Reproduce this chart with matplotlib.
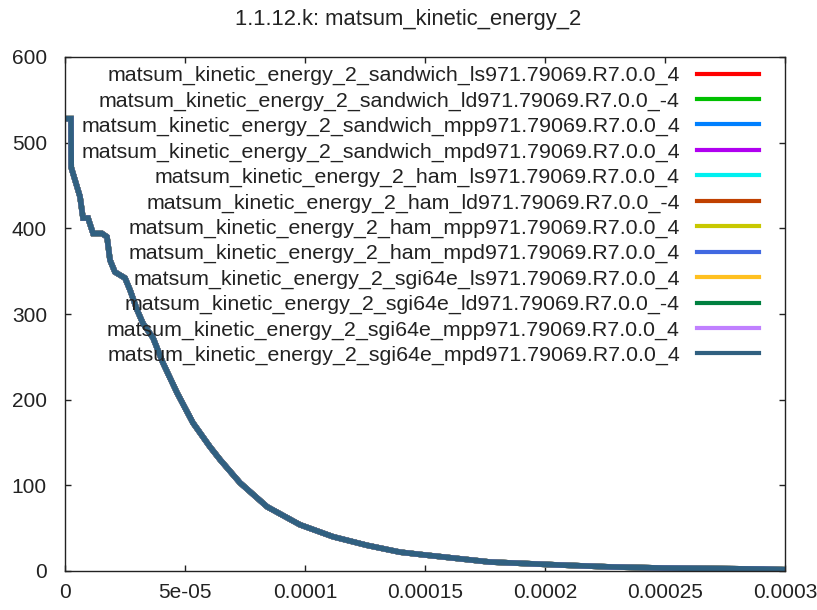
import matplotlib
matplotlib.use('Agg')
import matplotlib.pyplot as plt

plt.rcParams['font.family'] = ['Liberation Sans', 'DejaVu Sans']

# Dane (czas [s], energia)
czas = [0, 2.5e-6, 2.6e-6, 6.25e-6, 7.5e-6, 9.6e-6, 1.17e-5, 1.54e-5, 1.75e-5,
        1.875e-5, 2.08e-5, 2.5e-5, 2.71e-5, 3.0e-5, 3.25e-5, 3.67e-5, 4.08e-5,
        4.67e-5, 5.33e-5, 6.04e-5, 6.46e-5, 7.29e-5, 8.42e-5, 9.79e-5, 1.117e-4,
        1.258e-4, 1.396e-4, 1.49e-4, 1.77e-4, 2.06e-4, 2.28e-4, 2.49e-4, 2.91e-4, 3.0e-4]
energia = [528, 528, 471, 437, 412, 412, 394, 394, 390,
           363, 349, 342, 328, 305, 289, 272, 243,
           208, 173, 145, 130, 103, 75, 54, 40,
           30, 22, 19, 10.5, 7, 4.7, 3.5, 2.3, 1.5]

serie = ['matsum_kinetic_energy_2_sandwich_ls971.79069.R7.0.0_4',
         'matsum_kinetic_energy_2_sandwich_ld971.79069.R7.0.0_-4',
         'matsum_kinetic_energy_2_sandwich_mpp971.79069.R7.0.0_4',
         'matsum_kinetic_energy_2_sandwich_mpd971.79069.R7.0.0_4',
         'matsum_kinetic_energy_2_ham_ls971.79069.R7.0.0_4',
         'matsum_kinetic_energy_2_ham_ld971.79069.R7.0.0_-4',
         'matsum_kinetic_energy_2_ham_mpp971.79069.R7.0.0_4',
         'matsum_kinetic_energy_2_ham_mpd971.79069.R7.0.0_4',
         'matsum_kinetic_energy_2_sgi64e_ls971.79069.R7.0.0_4',
         'matsum_kinetic_energy_2_sgi64e_ld971.79069.R7.0.0_-4',
         'matsum_kinetic_energy_2_sgi64e_mpp971.79069.R7.0.0_4',
         'matsum_kinetic_energy_2_sgi64e_mpd971.79069.R7.0.0_4']
kolory = ['#ff0000', '#00c000', '#0080ff', '#b000f0', '#00f0f0', '#c04000',
          '#c8c800', '#4169e1', '#ffc020', '#008040', '#c080ff', '#306080']

xticks = [0, 5e-5, 1e-4, 1.5e-4, 2e-4, 2.5e-4, 3e-4]
xlabels = ['0', '5e-05', '0.0001', '0.00015', '0.0002', '0.00025', '0.0003']
yticks = [0, 100, 200, 300, 400, 500, 600]

fig = plt.figure(figsize=(8.17, 6.10), dpi=100)
ax = fig.add_axes([65/817, 39/610, 720/817, 514/610])

for nazwa, kolor in zip(serie, kolory):
    ax.plot(czas, energia, color=kolor, lw=4, label=nazwa, solid_joinstyle='miter')

ax.set_xlim(0, 3e-4)
ax.set_ylim(0, 600)
ax.set_xticks(xticks, xlabels)
ax.set_yticks(yticks)
ax.tick_params(direction='in', length=4, width=1, top=True, right=True,
               labelsize=15, colors='#222222', labelcolor='#222222')
ax.tick_params(axis='y', pad=13)
ax.tick_params(axis='x', pad=9)
for s in ax.spines.values():
    s.set_linewidth(1)
    s.set_color('#222222')

leg = ax.legend(loc='upper right', bbox_to_anchor=(759/817, 1 - 66/610),
                bbox_transform=fig.transFigure, frameon=False, markerfirst=False,
                fontsize=15.4, handlelength=2.9, handletextpad=0.8,
                labelspacing=0.29, borderpad=0, borderaxespad=0)
for l in leg.get_lines():
    l.set_linewidth(3)
for t in leg.get_texts():
    t.set_color('#222222')

fig.text(0.5, 1 - 19/610, '1.1.12.k: matsum_kinetic_energy_2', ha='center', va='center',
         fontsize=15.8, color='#222222')

fig.savefig('out.png', dpi=100)
